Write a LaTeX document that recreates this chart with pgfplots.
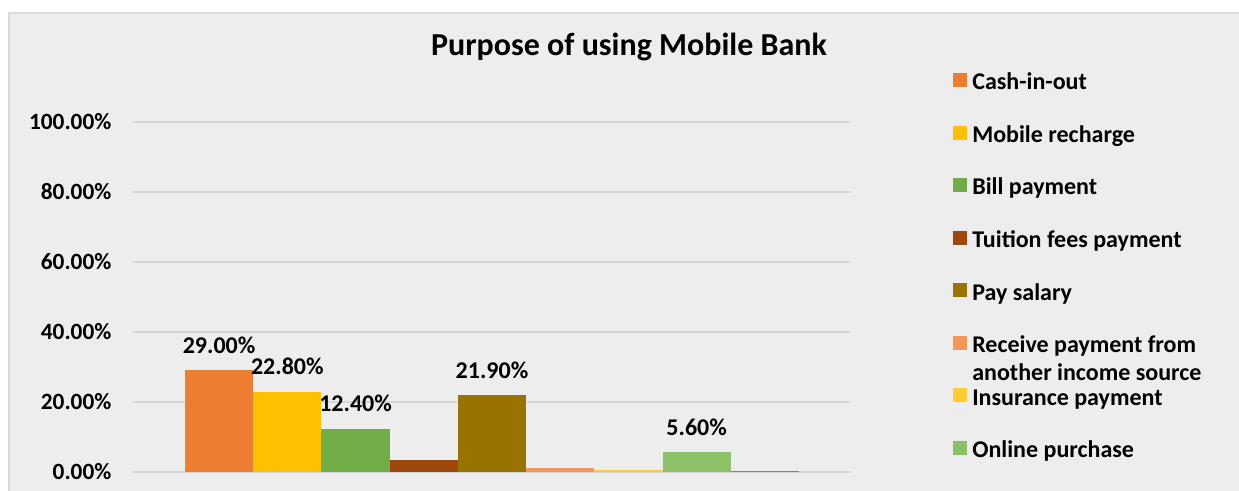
\documentclass[border=0pt]{standalone}
\usepackage{fontspec}
\setmainfont{Carlito}
\usepackage{pgfplots}
\pgfplotsset{compat=1.18}
\definecolor{bg}{HTML}{EDEDED}
\definecolor{framec}{HTML}{D9D9D9}
\definecolor{gridc}{HTML}{D6D6D6}
\definecolor{c1}{HTML}{ED7D31}
\definecolor{c2}{HTML}{FFC000}
\definecolor{c3}{HTML}{70AD47}
\definecolor{c4}{HTML}{9E480E}
\definecolor{c5}{HTML}{997300}
\definecolor{c6}{HTML}{F1975A}
\definecolor{c7}{HTML}{FFCD33}
\definecolor{c8}{HTML}{8CC168}
\definecolor{c9}{HTML}{DD6A16}
\begin{document}
\begin{tikzpicture}
\useasboundingbox (0pt,0pt) rectangle (929.25pt,-368.25pt);
\fill[white] (0pt,0pt) rectangle (929.25pt,-368.25pt);
\fill[bg] (6.75pt,-9.75pt) rectangle (929.25pt,-368.25pt);
\draw[framec, line width=1.5pt] (6.75pt,-368.25pt) -- (6.75pt,-9.75pt) -- (929.25pt,-9.75pt);
\begin{axis}[
  at={(99.75pt,-354pt)}, anchor=south west,
  scale only axis, width=537.75pt, height=262.5pt,
  xmin=-1.262, xmax=9.248, ymin=0, ymax=100,
  xtick=\empty, ytick={0,20,...,100},
  ymajorgrids, grid style={draw=gridc, line width=1.1pt},
  axis line style={draw=none}, major tick length=0pt,
  clip=false,
  /pgf/number format/assume math mode=true,
  yticklabel={\pgfmathprintnumber[fixed,fixed zerofill,precision=2]{\tick}\%},
  yticklabel style={font=\bfseries\fontsize{17.5}{21}\selectfont, anchor=east, inner sep=0pt, xshift=-16pt},
  every node near coord/.append style={font=\bfseries\fontsize{18}{21}\selectfont, anchor=base, inner sep=0pt, yshift=13pt, text=black},
  legend cell align=left,
  legend image code/.code={\fill[#1] (0pt,-2.5pt) rectangle (10.5pt,8pt);},
  legend style={draw=none, fill=none, inner sep=0pt, at={(1.1437,1.142)}, anchor=north west,
    row sep=22.4pt, column sep=3.75pt,
    font=\bfseries\fontsize{18}{21}\selectfont,
    nodes={inner sep=0pt, text height=13pt, text depth=4pt}},
  lbl/.style={nodes near coords={\pgfmathprintnumber[fixed,fixed zerofill,precision=2]{\pgfplotspointmeta}\%}},
]
\addplot[ybar, bar width=1, bar shift=0pt, fill=c1, draw=none, lbl] coordinates {(0,29.0)};
\addlegendentry{Cash-in-out}
\addplot[ybar, bar width=1, bar shift=0pt, fill=c2, draw=none, lbl] coordinates {(1,22.8)};
\addlegendentry{Mobile recharge}
\addplot[ybar, bar width=1, bar shift=0pt, fill=c3, draw=none, lbl] coordinates {(2,12.4)};
\addlegendentry{Bill payment}
\addplot[ybar, bar width=1, bar shift=0pt, fill=c4, draw=none] coordinates {(3,3.4)};
\addlegendentry{Tuition fees payment}
\addplot[ybar, bar width=1, bar shift=0pt, fill=c5, draw=none, lbl] coordinates {(4,21.9)};
\addlegendentry{Pay salary}
\addplot[ybar, bar width=1, bar shift=0pt, fill=c6, draw=none] coordinates {(5,1.1)};
\addlegendentry{\raisebox{0pt}[\height][0pt]{\parbox[t]{200pt}{\raggedright Receive payment from\\another income source}}}
\addplot[ybar, bar width=1, bar shift=0pt, fill=c7, draw=none] coordinates {(6,0.6)};
\addlegendentry{Insurance payment}
\addplot[ybar, bar width=1, bar shift=0pt, fill=c8, draw=none, lbl] coordinates {(7,5.6)};
\addlegendentry{Online purchase}
\addplot[ybar, bar width=1, bar shift=0pt, fill=c9, draw=none, forget plot] coordinates {(8,0.35)};
\end{axis}
\node[anchor=base, font=\bfseries\fontsize{24}{28}\selectfont] at (471.75pt,-42pt) {Purpose of using Mobile Bank};
\end{tikzpicture}
\end{document}
